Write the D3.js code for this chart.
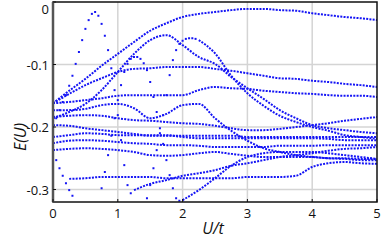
<!DOCTYPE html>
<html>
<head>
<meta charset="utf-8">
<script src="https://cdn.jsdelivr.net/npm/d3@7.9.0/dist/d3.min.js"></script>
<style>
  body { margin: 0; background: #fff; }
  svg text { font-family: "Open Sans", "Noto Sans", sans-serif; fill: #111; }
</style>
</head>
<body>
<svg id="chart" width="382" height="240"></svg>
<script>
// grid of U/t used by the smooth levels
const uGrid = [0, 0.25, 0.5, 0.75, 1, 1.25, 1.5, 1.75, 2, 2.25, 2.5, 2.75, 3, 3.25, 3.5, 3.75, 4, 4.25, 4.5, 4.75, 5];

// smooth levels E(U), null where the level is not drawn
const levelA = [-0.162,-0.142,-0.123,-0.102,-0.083,-0.064,-0.046,-0.034,-0.024,-0.019,-0.016,-0.013,-0.011,-0.011,-0.013,-0.014,-0.018,-0.021,-0.024,-0.026,-0.029];
const levelC = [-0.162,-0.147,-0.133,-0.122,-0.112,-0.107,-0.106,-0.104,-0.104,-0.104,-0.107,-0.110,-0.114,-0.118,-0.122,-0.123,-0.126,-0.128,-0.131,-0.133,-0.136];
const levelD = [-0.162,-0.160,-0.157,-0.154,-0.150,-0.149,-0.149,-0.149,-0.149,-0.141,-0.136,-0.138,-0.139,-0.142,-0.144,-0.146,-0.147,-0.149,-0.150,-0.150,-0.152];
const levelB = [-0.186,-0.176,-0.163,-0.141,-0.112,-0.083,-0.061,-0.053,-0.069,-0.088,-0.099,-0.120,-0.138,-0.155,-0.173,-0.186,-0.197,-0.202,-0.205,-0.208,-0.210];
const levelE = [null,null,null,null,null,null,null,null,null,-0.061,-0.082,-0.118,-0.146,-0.166,-0.182,-0.192,-0.200,-0.206,-0.213,-0.216,-0.219];
const levelF = [-0.184,-0.182,-0.181,-0.182,-0.186,-0.189,-0.190,-0.192,-0.194,-0.195,-0.198,-0.202,-0.205,-0.205,-0.203,-0.200,-0.197,-0.194,-0.190,-0.187,-0.184];
const levelH = [-0.173,-0.173,-0.171,-0.165,-0.163,-0.170,-0.186,-0.179,-0.165,-0.163,-0.186,-0.206,-0.222,-0.234,-0.240,-0.245,-0.248,-0.250,-0.251,-0.253,-0.253];
const levelI = [-0.197,-0.198,-0.202,-0.205,-0.208,-0.211,-0.214,-0.214,-0.214,-0.214,-0.214,-0.214,-0.216,-0.216,-0.216,-0.216,-0.216,-0.216,-0.216,-0.216,-0.216];
const levelJ = [-0.216,-0.213,-0.210,-0.211,-0.213,-0.213,-0.213,-0.213,-0.216,-0.218,-0.218,-0.218,-0.218,-0.218,-0.218,-0.218,-0.218,-0.219,-0.221,-0.221,-0.221];
const levelK = [-0.226,-0.222,-0.221,-0.222,-0.224,-0.226,-0.227,-0.229,-0.229,-0.230,-0.232,-0.232,-0.232,-0.232,-0.230,-0.230,-0.230,-0.229,-0.229,-0.229,-0.229];
const levelL = [-0.237,-0.235,-0.234,-0.235,-0.237,-0.240,-0.245,-0.246,-0.245,-0.242,-0.240,-0.243,-0.246,-0.248,-0.248,-0.248,-0.248,-0.250,-0.250,-0.251,-0.251];
const levelM = [null,-0.283,-0.282,-0.280,-0.280,-0.280,-0.280,-0.282,-0.282,-0.282,-0.282,-0.282,-0.280,-0.280,-0.280,-0.278,-0.264,-0.258,-0.256,-0.258,-0.259];
const levelN = [null,null,null,null,null,-0.301,-0.291,-0.285,-0.278,-0.274,-0.269,-0.262,-0.258,-0.253,-0.248,-0.245,-0.242,-0.238,-0.235,-0.234,-0.232];
const levelG = [null,null,null,null,null,null,null,null,-0.317,-0.301,-0.282,-0.262,-0.248,-0.242,-0.240,-0.240,-0.240,-0.242,-0.245,-0.248,-0.251];

// steep arcs, sampled every 0.05 in U/t from their first U
const arcStep = 0.05;
const arc0Start = 0.05;
const arc0 = [-0.253,-0.266,-0.278,-0.290,-0.301,-0.310];
const arc1Start = 0.05;
const arc1 = [-0.186,-0.173,-0.160,-0.149,-0.134,-0.118,-0.099,-0.080,-0.061,-0.043,-0.029,-0.019,-0.016,-0.022,-0.035,-0.054,-0.077,-0.106,-0.141,-0.181,-0.221,-0.261,-0.293,-0.306];
const arc2Start = 0.75;
const arc2 = [-0.298,-0.272,-0.245,-0.214,-0.186,-0.157,-0.133,-0.112,-0.099,-0.091,-0.088,-0.088,-0.091,-0.098,-0.109,-0.128,-0.152,-0.176,-0.202,-0.227,-0.253,-0.277,-0.298,-0.314,-0.318];
const arc3Start = 1.45;
const arc3 = [-0.314,-0.293,-0.266,-0.237,-0.210,-0.181,-0.149,-0.117,-0.093,-0.077,-0.067,-0.062,-0.059,-0.058,-0.058,-0.059];

const xTicks = [0, 1, 2, 3, 4, 5];
const yTicks = [0, -0.1, -0.2, -0.3];
const yTickLabels = ['0', '-0.1', '-0.2', '-0.3'];

const W = 382, H = 240;
const margin = { left: 53, right: 5, top: 2, bottom: 38 };
const blue = '#1414f5';

const svg = d3.select('#chart');
const x = d3.scaleLinear().domain([0, 5]).range([margin.left, W - margin.right]);
const y = d3.scaleLinear().domain([-0.32, 0]).range([H - margin.bottom, margin.top]);

// grid
svg.append('g').selectAll('line').data(xTicks.slice(1, -1)).join('line')
  .attr('x1', d => x(d)).attr('x2', d => x(d))
  .attr('y1', y(0)).attr('y2', y(-0.32))
  .attr('stroke', '#d4d4d4').attr('stroke-width', 1.5);
svg.append('g').selectAll('line').data(yTicks.slice(1)).join('line')
  .attr('x1', x(0)).attr('x2', x(5))
  .attr('y1', d => y(d)).attr('y2', d => y(d))
  .attr('stroke', '#d4d4d4').attr('stroke-width', 1.5);

const plot = svg.append('g');
plot.append('clipPath').attr('id', 'clip').append('rect')
  .attr('x', x(0)).attr('y', y(0)).attr('width', x(5) - x(0)).attr('height', y(-0.32) - y(0));
const marks = plot.append('g').attr('clip-path', 'url(#clip)');

// smooth levels as dotted lines
const levels = [levelA, levelC, levelD, levelB, levelE, levelF, levelH, levelI, levelJ, levelK, levelL, levelM, levelN, levelG];
const line = d3.line()
  .defined(d => d[1] !== null)
  .x(d => x(d[0])).y(d => y(d[1]))
  .curve(d3.curveMonotoneX);
levels.forEach(vals => {
  marks.append('path')
    .attr('d', line(uGrid.map((u, i) => [u, vals[i]])))
    .attr('fill', 'none')
    .attr('stroke', blue)
    .attr('stroke-width', 2)
    .attr('stroke-dasharray', '2,1.25');
});

// steep arcs as separate dots
const arcs = [[arc0Start, arc0], [arc1Start, arc1], [arc2Start, arc2], [arc3Start, arc3]];
arcs.forEach(([start, vals]) => {
  marks.append('g').selectAll('rect').data(vals).join('rect')
    .attr('x', (d, i) => x(start + i * arcStep) - 1)
    .attr('y', d => y(d) - 1)
    .attr('width', 2).attr('height', 2)
    .attr('fill', blue);
});

// frame
svg.append('rect')
  .attr('x', x(0)).attr('y', y(0)).attr('width', x(5) - x(0)).attr('height', y(-0.32) - y(0))
  .attr('fill', 'none').attr('stroke', '#111').attr('stroke-width', 1.5);
svg.append('line')
  .attr('x1', x(0)).attr('x2', x(0)).attr('y1', y(0)).attr('y2', y(-0.32))
  .attr('stroke', '#555').attr('stroke-width', 2.5);

// ticks (inside)
svg.append('g').selectAll('line').data(xTicks).join('line')
  .attr('x1', d => x(d)).attr('x2', d => x(d))
  .attr('y1', y(-0.32)).attr('y2', y(-0.32) - 3)
  .attr('stroke', '#111');
svg.append('g').selectAll('line').data(yTicks).join('line')
  .attr('x1', x(0)).attr('x2', x(0) + 3)
  .attr('y1', d => y(d)).attr('y2', d => y(d))
  .attr('stroke', '#111');

// tick labels
svg.append('g').selectAll('text').data(xTicks).join('text')
  .attr('x', d => x(d)).attr('y', H - margin.bottom + 16)
  .attr('text-anchor', 'middle').attr('font-size', 13)
  .text(d => d);
svg.append('g').selectAll('text').data(yTicks).join('text')
  .attr('x', x(0) - 4).attr('y', d => Math.max(y(d) + 5, 14))
  .attr('text-anchor', 'end').attr('font-size', 13)
  .text((d, i) => yTickLabels[i]);

// axis titles
svg.append('text')
  .attr('x', 213).attr('y', 234)
  .attr('text-anchor', 'middle').attr('font-size', 16).attr('font-style', 'italic')
  .text('U/t');
svg.append('text')
  .attr('transform', 'translate(26,137) rotate(-90)')
  .attr('text-anchor', 'middle').attr('font-size', 16).attr('font-style', 'italic')
  .text('E(U)');
</script>
</body>
</html>
